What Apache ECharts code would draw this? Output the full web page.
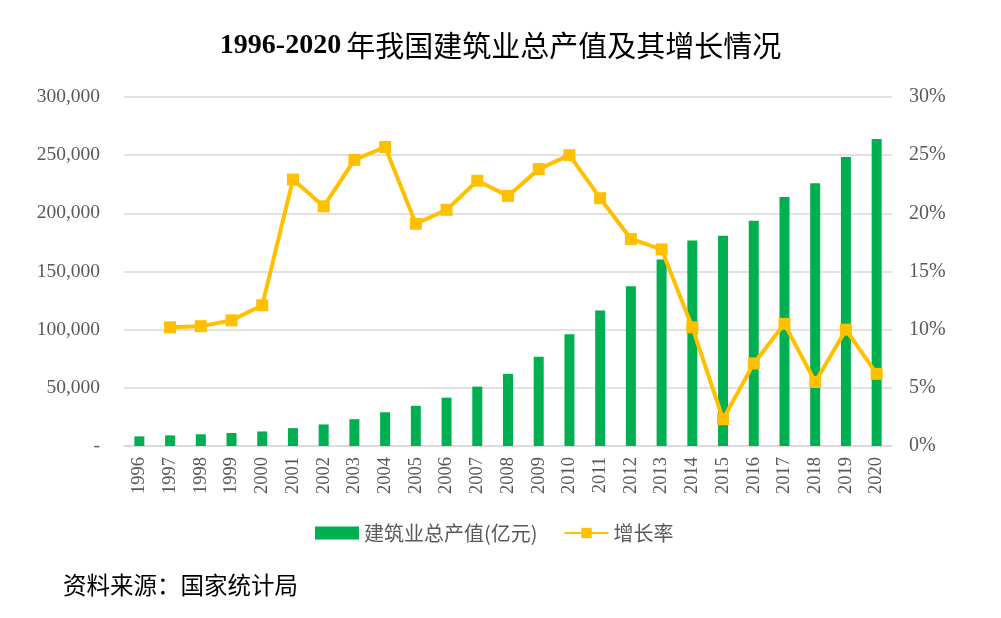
<!DOCTYPE html>
<html><head><meta charset="utf-8">
<script src="https://cdn.jsdelivr.net/npm/echarts@6/dist/echarts.min.js"></script>
<style>html,body{margin:0;padding:0;background:#fff}#c{width:1001px;height:618px}</style>
</head><body><div id="c"></div>
<script>
const years = ['1996','1997','1998','1999','2000','2001','2002','2003','2004','2005','2006','2007','2008','2009','2010','2011','2012','2013','2014','2015','2016','2017','2018','2019','2020'];
const output = [8282,9126,10062,11153,12498,15362,18527,23084,29021,34552,41557,51044,62037,76808,96031,116463,137218,160366,176713,180757,193567,213954,225817,248446,263947];
const growth = [null,10.2,10.3,10.8,12.1,22.9,20.6,24.6,25.7,19.1,20.3,22.8,21.5,23.8,25.0,21.3,17.8,16.9,10.2,2.3,7.1,10.5,5.5,10.0,6.2];

const serif = '"Liberation Serif","Times New Roman",serif';
const chart = echarts.init(document.getElementById('c'));
chart.setOption({
  animation:false,
  title:{text:'{a|1996-2020} {b|年我国建筑业总产值及其增长情况}',left:'center',top:26,
    textStyle:{rich:{
      a:{fontFamily:serif,fontWeight:'bold',fontSize:28,color:'#000'},
      b:{fontFamily:'"Noto Sans CJK SC",sans-serif',fontWeight:'normal',fontSize:29,color:'#000'}}}},
  grid:{left:124,right:109,top:97,bottom:172},
  legend:{top:518,left:310,itemGap:26,itemWidth:44,itemHeight:13,
    textStyle:{fontFamily:'"Noto Sans CJK SC",sans-serif',fontSize:20,color:'#595959'},
    data:[{name:'建筑业总产值(亿元)',icon:'rect'},{name:'增长率'}]},
  xAxis:{type:'category',data:years,
    axisLine:{lineStyle:{color:'#d9d9d9',width:1.5}},axisTick:{show:false},
    axisLabel:{rotate:90,fontFamily:serif,fontSize:18.5,color:'#595959',margin:11}},
  yAxis:[
    {type:'value',min:0,max:300000,interval:50000,
     axisLine:{show:false},axisTick:{show:false},
     splitLine:{lineStyle:{color:'#d9d9d9',width:1.5}},
     axisLabel:{fontFamily:serif,fontSize:19.5,color:'#595959',margin:24,
       formatter:v=>v===0?'-':v.toLocaleString('en-US')}},
    {type:'value',min:0,max:30,interval:5,
     axisLine:{show:false},axisTick:{show:false},splitLine:{show:false},
     axisLabel:{fontFamily:serif,fontSize:20,color:'#595959',margin:17,formatter:'{value}%'}}
  ],
  series:[
    {name:'建筑业总产值(亿元)',type:'bar',data:output,barWidth:10,itemStyle:{color:'#00B050'}},
    {name:'增长率',type:'line',yAxisIndex:1,data:growth,symbol:'rect',symbolSize:12,
     lineStyle:{color:'#FFC000',width:4},itemStyle:{color:'#FFC000'}}
  ],
  graphic:[{type:'text',left:63,top:573,style:{text:'资料来源：国家统计局',
    font:'23.5px "Noto Sans CJK SC", sans-serif',fill:'#000'}}]
});
</script></body></html>
